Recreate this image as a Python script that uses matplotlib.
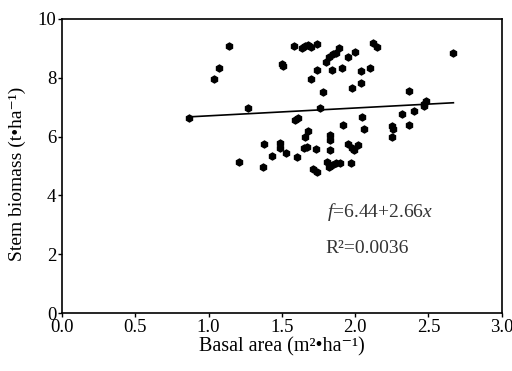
import numpy as np
import matplotlib
matplotlib.use('Agg')
import matplotlib.pyplot as plt

basal_area = [0.87, 1.04, 1.07, 1.14, 1.27, 1.21, 1.37, 1.38, 1.43, 1.49, 1.49, 1.53, 1.60,
              1.50, 1.51, 1.58, 1.64, 1.66, 1.68, 1.70, 1.74, 1.70, 1.74, 1.78, 1.76, 1.59,
              1.61, 1.68, 1.66, 1.67, 1.65, 1.73, 1.71, 1.74, 1.83, 1.83, 1.83, 1.81, 1.84,
              1.87, 1.90, 1.82, 1.97, 1.92, 1.95, 1.98, 2.02, 1.99, 2.05, 2.06, 1.80, 1.82,
              1.85, 1.87, 1.89, 1.84, 1.91, 1.95, 2.00, 1.98, 2.04, 2.04, 2.10, 2.12, 2.15,
              2.25, 2.26, 2.25, 2.32, 2.37, 2.40, 2.37, 2.47, 2.48, 2.47, 2.67]
stem_biomass = [6.64, 7.97, 8.32, 9.08, 6.97, 5.14, 4.97, 5.74, 5.35, 5.79, 5.60, 5.43, 5.30,
                8.46, 8.40, 9.08, 9.02, 9.08, 9.12, 9.05, 9.15, 7.95, 8.25, 7.52, 6.98, 6.55,
                6.63, 6.19, 6.00, 5.66, 5.60, 5.57, 4.90, 4.78, 6.06, 5.88, 5.54, 5.15, 5.05,
                5.10, 5.10, 4.98, 5.11, 6.38, 5.75, 5.62, 5.70, 5.55, 6.67, 6.25, 8.55, 8.70,
                8.80, 8.85, 9.00, 8.28, 8.32, 8.72, 8.89, 7.66, 7.81, 8.23, 8.34, 9.19, 9.06,
                6.37, 6.25, 6.00, 6.77, 6.41, 6.87, 7.54, 7.05, 7.20, 7.10, 8.85]
fit_intercept, fit_slope = 6.44, 0.266
xticks = [0.0, 0.5, 1.0, 1.5, 2.0, 2.5, 3.0]
yticks = [0, 2, 4, 6, 8, 10]

plt.rcParams['font.family'] = ['Liberation Serif', 'DejaVu Serif']
plt.rcParams['mathtext.fontset'] = 'custom'
plt.rcParams['mathtext.rm'] = 'Liberation Serif'
plt.rcParams['mathtext.it'] = 'Liberation Serif:italic'

fig = plt.figure(figsize=(5.12, 3.71), dpi=100)
ax = fig.add_axes([0.121, 0.156, 0.859, 0.793])

ax.plot(basal_area, stem_biomass, 'h', color='black', ms=5, mec='black')
xl = np.array([min(basal_area), max(basal_area)])
ax.plot(xl, fit_intercept + fit_slope * xl, color='black', lw=1.2)

ax.set_xlim(0, 3.0)
ax.set_ylim(0, 10)
ax.set_xticks(xticks)
ax.set_xticklabels([f'{t:.1f}' for t in xticks])
ax.set_yticks(yticks)
ax.tick_params(direction='out', length=3, width=1, labelsize=13.5, pad=1)
for s in ax.spines.values():
    s.set_linewidth(1.2)

ax.set_xlabel('Basal area (m²•ha⁻¹)', fontsize=14.5, labelpad=1)
ax.set_ylabel('Stem biomass (t•ha⁻¹)', fontsize=14)
ax.yaxis.set_label_coords(-0.082, 0.473)

ax.text(1.81, 3.45, '$f$=6.44+2.66$x$', fontsize=14, va='center', color='#333333')
ax.text(1.80, 2.2, 'R²=0.0036', fontsize=14, va='center', color='#333333')

fig.savefig('out.png', dpi=100)
